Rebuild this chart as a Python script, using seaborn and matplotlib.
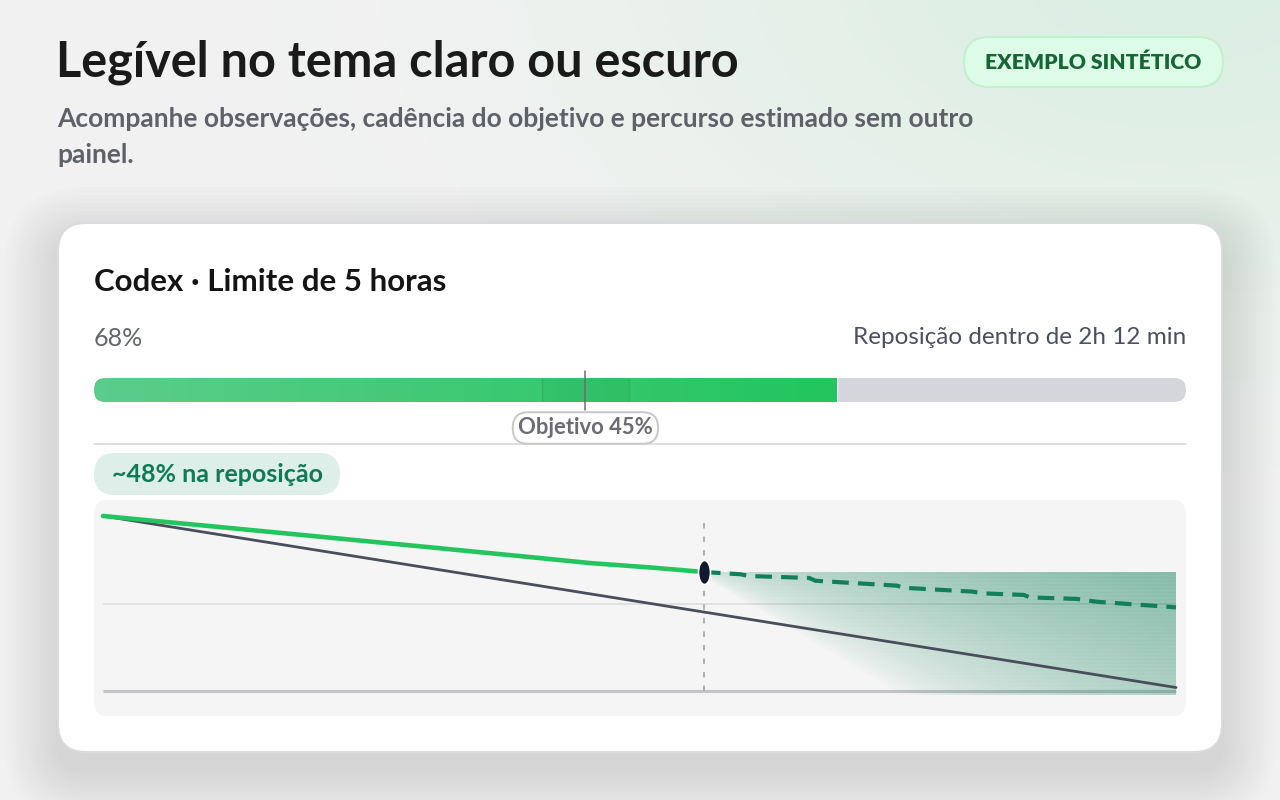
import numpy as np
import matplotlib
matplotlib.use('Agg')
import matplotlib.pyplot as plt
import seaborn as sns
from matplotlib.patches import FancyBboxPatch
from matplotlib.path import Path
from matplotlib.transforms import Affine2D, blended_transform_factory
from matplotlib.colors import to_rgb

sns.set_theme(style='white')
plt.rcParams['font.family'] = ['Lato', 'DejaVu Sans']

# ---- data -------------------------------------------------------------
LIMIT_HOURS = 5
obs_hours = [0, 0.5, 1.0, 1.5, 2.0, 2.27, 2.55, 2.8]
obs_pct = [100, 94.2, 88.3, 82.4, 76.4, 73.1, 70.6, 68.0]

pace_hours = [0, 5]
pace_pct = [100, 2]

proj_hours = [2.8, 2.97, 3.01, 3.29, 3.32, 3.70, 3.73, 4.05, 4.10, 4.29, 4.32, 4.54, 4.63, 5.0]
proj_pct = [68.0, 66.7, 65.7, 64.6, 63.0, 60.2, 59.0, 56.8, 55.8, 54.9, 53.5, 52.6, 51.0, 47.8]

band_hours = [2.8, 3.1, 3.4, 3.8, 4.4, 5.0]
band_low = [68, 28, 0, -2.3, -2.3, -2.3]
band_high = [68, 68, 68, 68, 68, 68]

remaining_pct = 68
target_pct = 45
target_zone = (41, 49)

title = 'Legível no tema claro ou escuro'
subtitle = ['Acompanhe observações, cadência do objetivo e percurso estimado sem outro',
            'painel.']
badge = 'EXEMPLO SINTÉTICO'
card_title = 'Codex · Limite de 5 horas'
reset_label = 'Reposição dentro de 2h 12 min'
target_label = f'Objetivo {target_pct}%'
forecast_label = '~48% na reposição'

# ---- figure / page ----------------------------------------------------
W, H = 1280, 800
fig = plt.figure(figsize=(12.8, 8), dpi=100)


def px_axes(x0, y0, x1, y1):
    return fig.add_axes([x0 / W, 1 - y1 / H, (x1 - x0) / W, (y1 - y0) / H])


bg = fig.add_axes([0, 0, 1, 1])
bg.set_xlim(0, W)
bg.set_ylim(H, 0)
bg.axis('off')

# page background with a soft green glow top right
yy, xx = np.mgrid[0:H:4, 0:W:4]
glow = np.exp(-(((xx - 1180) / 520) ** 2 + ((yy + 40) / 330) ** 2))
base = np.array(to_rgb('#f2f2f2'))
tint = np.array(to_rgb('#dcefe3'))
img = base[None, None, :] * (1 - glow[..., None]) + tint[None, None, :] * glow[..., None]
bg.imshow(img, extent=(0, W, H, 0), zorder=0, aspect='auto')

# card shadow + card
for i in range(14):
    pad = 2 + i * 4
    bg.add_patch(FancyBboxPatch((58 - pad, 223 - pad + 18), 1164 + 2 * pad, 529 + 2 * pad,
                                boxstyle=f'round,pad=0,rounding_size={28 + pad}',
                                fc='#2a2d3a', ec='none', alpha=0.007, zorder=1))
bg.add_patch(FancyBboxPatch((58, 223), 1164, 529, boxstyle='round,pad=0,rounding_size=28',
                            fc='white', ec='#dadbdf', lw=1.5, zorder=2))

# header texts
bg.text(56, 62, title, fontsize=35, weight='bold', color='#1a1a1a', va='center', zorder=3)
bg.text(57, 119, subtitle[0], fontsize=19, weight='bold', color='#5f6168', va='center', zorder=3)
bg.text(57, 155, subtitle[1], fontsize=19, weight='bold', color='#5f6168', va='center', zorder=3)

bg.add_patch(FancyBboxPatch((964, 37), 259, 50, boxstyle='round,pad=0,rounding_size=25',
                            fc='#dcfce7', ec='#c4f0d2', lw=1.5, zorder=3))
bg.text(1093.5, 62.5, badge, fontsize=15.2, weight='heavy', color='#166534',
        ha='center', va='center', zorder=4)

# card texts
bg.text(94, 282, card_title, fontsize=22.5, weight='bold', color='#141414', va='center', zorder=3)
bg.text(94, 338, f'{remaining_pct}%', fontsize=18, color='#62666e', va='center', zorder=3)
bg.text(1186, 338, reset_label, fontsize=17.5, color='#4b5060', va='center', ha='right', zorder=3)

# divider
bg.plot([94, 1186], [444, 444], color='#dcdce0', lw=1.3, zorder=3)

# forecast pill
bg.add_patch(FancyBboxPatch((94, 453), 246, 42, boxstyle='round,pad=0,rounding_size=21',
                            fc='#deeee8', ec='none', zorder=3))
bg.text(217, 474, forecast_label, fontsize=18, weight='bold', color='#0f7a55',
        ha='center', va='center', zorder=4)

# chart panel
bg.add_patch(FancyBboxPatch((94, 500), 1092, 216, boxstyle='round,pad=0,rounding_size=14',
                            fc='#f5f5f5', ec='none', zorder=3))

# ---- progress bar -----------------------------------------------------
axb = px_axes(94, 378, 1186, 402)
sns.barplot(x=[remaining_pct], y=['cota'], orient='h', width=1, color='#22c55e',
            saturation=1, ax=axb, zorder=2)
axb.set_xlim(0, 100)
axb.set_ylim(-0.5, 0.5)
axb.axis('off')
axb.patch.set_alpha(0)

ry = 0.5
rx = 12 / (1092 / 100)
track = FancyBboxPatch((0, -0.5), 100, 1, boxstyle=f'round,pad=0,rounding_size={rx}',
                       mutation_aspect=ry / rx, fc='#d4d6db', ec='none', zorder=1)
axb.add_patch(track)
bar = axb.patches[0]
bar.set_clip_path(track)

grad = np.linspace(0, 1, 256)
c0, c1 = np.array(to_rgb('#5ccd8b')), np.array(to_rgb('#22c55e'))
gimg = (c0[None, :] * (1 - grad[:, None]) + c1[None, :] * grad[:, None])[None, :, :]
gi = axb.imshow(gimg, extent=(bar.get_x(), bar.get_x() + bar.get_width(), -0.5, 0.5),
                aspect='auto', zorder=3)
gi.set_clip_path(track)

axb.axvspan(*target_zone, color='#000000', alpha=0.04, lw=0, zorder=4)
for z in target_zone:
    axb.axvline(z, color='#000000', alpha=0.07, lw=1, zorder=4)
axb.axvline(target_pct, ymin=-0.33, ymax=1.29, color='#6e6e74', lw=1.1, clip_on=False, zorder=5)

lbl_tr = blended_transform_factory(axb.transData, bg.transData)
axb.text(target_pct, 428, target_label, transform=lbl_tr, ha='center', va='center',
         fontsize=15.8, weight='bold', color='#6b6b75', zorder=6,
         bbox=dict(boxstyle='round,pad=0.24,rounding_size=0.7', fc='white', ec='#c8c8cc', lw=1.4))

# ---- chart ------------------------------------------------------------
ax = px_axes(94, 500, 1186, 716)
ax.set_xlim(-9 / 214.6, 5 + 10 / 214.6)
ax.set_ylim(-25 / 1.75, 100 + 16 / 1.75)
ax.axis('off')
ax.patch.set_alpha(0)

ax.hlines(50, 0, LIMIT_HOURS, color='#dedee2', lw=1.3, zorder=1)
ax.hlines(0, 0, LIMIT_HOURS, color='#c2c2c7', lw=2.2, zorder=1)
ax.vlines(obs_hours[-1], 0, 100, color='#a8a8ae', lw=1.3, linestyles=(0, (3, 4.5)), zorder=2)

# forecast cone
cone = ax.fill_between(band_hours, band_low, band_high, facecolor='none', edgecolor='none')
t0, t1 = band_hours[0], band_hours[-1]
p_lo, p_hi = min(band_low), max(band_high)
ny, nx = 200, 400
gy, gx = np.mgrid[0:ny, 0:nx]
frac = gx / (nx - 1)
depth = gy / (ny - 1)
a = np.clip(1 - depth / (2.3 * frac + 0.05), 0, 1) ** 0.8 * (0.3 + 0.7 * frac ** 0.6)
a = a * (1 - 0.06 * (gy % 6 < 3))
cimg = np.zeros((ny, nx, 4))
cimg[..., :3] = to_rgb('#11805a')
cimg[..., 3] = 0.5 * a
ci = ax.imshow(cimg, extent=(t0, t1, p_lo, p_hi), origin='upper', aspect='auto', zorder=2)
ci.set_clip_path(cone.get_paths()[0], cone.get_transform())

sns.lineplot(x=pace_hours, y=pace_pct, color='#4a4e5c', lw=2, ax=ax, zorder=3)
sns.lineplot(x=obs_hours, y=obs_pct, color='#22c55e', lw=3.3, ax=ax, zorder=4,
             solid_capstyle='round')
sns.lineplot(x=proj_hours, y=proj_pct, color='#11805a', lw=3, ax=ax, zorder=4,
             linestyle=(0, (4, 2.2)))

ellipse = Path.unit_circle().transformed(Affine2D().scale(0.5, 1.0))
ax.scatter([obs_hours[-1]], [obs_pct[-1]], marker=ellipse, s=300, color='#111a2e',
           edgecolor='white', linewidth=1.2, zorder=6)

ax.set_xlim(-9 / 214.6, 5 + 10 / 214.6)
ax.set_ylim(-25 / 1.75, 100 + 16 / 1.75)

fig.savefig('out.png', dpi=100)
